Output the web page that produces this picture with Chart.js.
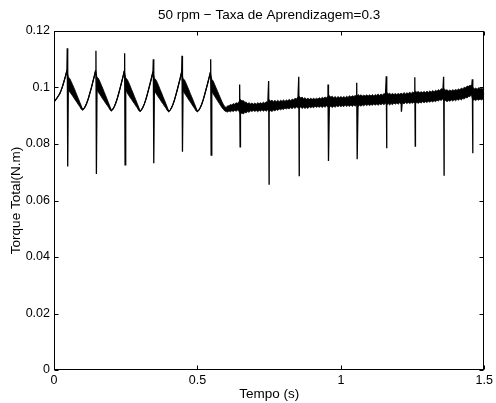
<!DOCTYPE html>
<html lang="pt">

<head>
    <meta charset="UTF-8" />
    <title>Torque Total - 50 rpm</title>
    <style>
        html, body { margin: 0; padding: 0; background: #fff; }
        #wrap { width: 496px; height: 403px; }
    </style>
</head>

<body>
    <div id="wrap"><canvas id="torqueChart"></canvas></div>

    <script src="https://cdn.jsdelivr.net/npm/chart.js"></script>

    <script>
        // torque read every 0.005 s (one row = 0.1 s): centre of the trace
        const sampleStep = 0.005;
        const torqueMid = [
            0.0948, 0.0955, 0.0962, 0.0970, 0.0978, 0.0990, 0.1005, 0.1022, 0.1040, 0.1060, 0.1015, 0.1008, 0.0999, 0.0990, 0.0980, 0.0970, 0.0960, 0.0950, 0.0940, 0.0929,
            0.0921, 0.0926, 0.0935, 0.0947, 0.0962, 0.0980, 0.0998, 0.1018, 0.1038, 0.1060, 0.1014, 0.1007, 0.0998, 0.0988, 0.0978, 0.0968, 0.0958, 0.0948, 0.0938, 0.0927,
            0.0918, 0.0923, 0.0932, 0.0944, 0.0959, 0.0977, 0.0996, 0.1016, 0.1036, 0.1058, 0.1012, 0.1005, 0.0996, 0.0986, 0.0976, 0.0966, 0.0956, 0.0946, 0.0936, 0.0925,
            0.0916, 0.0921, 0.0930, 0.0942, 0.0957, 0.0975, 0.0994, 0.1014, 0.1034, 0.1056, 0.1011, 0.1004, 0.0995, 0.0985, 0.0975, 0.0965, 0.0955, 0.0945, 0.0935, 0.0924,
            0.0915, 0.0920, 0.0929, 0.0941, 0.0956, 0.0974, 0.0993, 0.1013, 0.1033, 0.1055, 0.1010, 0.1003, 0.0994, 0.0984, 0.0974, 0.0964, 0.0954, 0.0944, 0.0934, 0.0923,
            0.0915, 0.0920, 0.0929, 0.0941, 0.0956, 0.0974, 0.0993, 0.1012, 0.1032, 0.1053, 0.1008, 0.1000, 0.0990, 0.0980, 0.0970, 0.0960, 0.0950, 0.0940, 0.0932, 0.0925,
            0.0922, 0.0924, 0.0926, 0.0927, 0.0928, 0.0929, 0.0930, 0.0931, 0.0932, 0.0933, 0.0932, 0.0931, 0.0930, 0.0930, 0.0929, 0.0929, 0.0929, 0.0930, 0.0930, 0.0930,
            0.0930, 0.0930, 0.0930, 0.0931, 0.0931, 0.0932, 0.0932, 0.0932, 0.0933, 0.0934, 0.0936, 0.0935, 0.0935, 0.0935, 0.0936, 0.0936, 0.0937, 0.0937, 0.0938, 0.0938,
            0.0939, 0.0939, 0.0940, 0.0940, 0.0941, 0.0941, 0.0942, 0.0943, 0.0944, 0.0945, 0.0947, 0.0948, 0.0947, 0.0946, 0.0945, 0.0945, 0.0944, 0.0944, 0.0945, 0.0945,
            0.0945, 0.0945, 0.0946, 0.0946, 0.0946, 0.0947, 0.0947, 0.0947, 0.0948, 0.0948, 0.0949, 0.0950, 0.0950, 0.0950, 0.0949, 0.0949, 0.0949, 0.0949, 0.0950, 0.0950,
            0.0950, 0.0950, 0.0950, 0.0951, 0.0951, 0.0951, 0.0952, 0.0952, 0.0952, 0.0953, 0.0953, 0.0954, 0.0954, 0.0954, 0.0954, 0.0954, 0.0954, 0.0955, 0.0955, 0.0955,
            0.0955, 0.0955, 0.0956, 0.0956, 0.0956, 0.0957, 0.0957, 0.0957, 0.0958, 0.0958, 0.0959, 0.0960, 0.0960, 0.0960, 0.0959, 0.0959, 0.0959, 0.0960, 0.0960, 0.0960,
            0.0960, 0.0961, 0.0961, 0.0961, 0.0962, 0.0962, 0.0962, 0.0963, 0.0963, 0.0963, 0.0964, 0.0965, 0.0965, 0.0965, 0.0965, 0.0965, 0.0965, 0.0966, 0.0966, 0.0966,
            0.0967, 0.0967, 0.0968, 0.0968, 0.0969, 0.0969, 0.0970, 0.0971, 0.0972, 0.0973, 0.0975, 0.0977, 0.0974, 0.0972, 0.0971, 0.0971, 0.0971, 0.0972, 0.0972, 0.0973,
            0.0973, 0.0974, 0.0975, 0.0976, 0.0977, 0.0978, 0.0980, 0.0982, 0.0984, 0.0986, 0.0988, 0.0990, 0.0978, 0.0976, 0.0976, 0.0976, 0.0977, 0.0977, 0.0977, 0.0977,
            0.0977
        ];

        // half height of the fast ripple band around the centre, same grid
        const torqueSpread = [
            0, 0, 0, 0, 0, 0, 0, 0, 0, 0, 0.0022, 0.0024, 0.0022, 0.0020, 0.0018, 0.0016, 0.0013, 0.0011, 0.0008, 0.0006,
            0, 0, 0, 0, 0, 0, 0, 0, 0, 0, 0.0022, 0.0025, 0.0023, 0.0021, 0.0019, 0.0016, 0.0014, 0.0011, 0.0008, 0.0006,
            0, 0, 0, 0, 0, 0, 0, 0, 0, 0, 0.0022, 0.0024, 0.0023, 0.0021, 0.0018, 0.0016, 0.0013, 0.0011, 0.0008, 0.0006,
            0, 0, 0, 0, 0, 0, 0, 0, 0, 0, 0.0022, 0.0024, 0.0023, 0.0021, 0.0018, 0.0016, 0.0013, 0.0011, 0.0008, 0.0006,
            0, 0, 0, 0, 0, 0, 0, 0, 0, 0, 0.0021, 0.0024, 0.0022, 0.0020, 0.0018, 0.0015, 0.0013, 0.0011, 0.0008, 0.0006,
            0, 0, 0, 0, 0, 0, 0, 0, 0, 0, 0.0021, 0.0023, 0.0021, 0.0019, 0.0017, 0.0015, 0.0013, 0.0011, 0.0009, 0.0008,
            0.0007, 0.0011, 0.0009, 0.0013, 0.0010, 0.0014, 0.0011, 0.0015, 0.0012, 0.0017, 0.0026, 0.0021, 0.0024, 0.0018, 0.0019, 0.0014, 0.0017, 0.0012, 0.0015, 0.0011,
            0.0015, 0.0011, 0.0016, 0.0012, 0.0015, 0.0011, 0.0016, 0.0012, 0.0017, 0.0013, 0.0021, 0.0017, 0.0020, 0.0015, 0.0019, 0.0014, 0.0018, 0.0013, 0.0017, 0.0013,
            0.0017, 0.0012, 0.0016, 0.0013, 0.0017, 0.0012, 0.0017, 0.0013, 0.0018, 0.0014, 0.0019, 0.0021, 0.0016, 0.0020, 0.0015, 0.0019, 0.0014, 0.0018, 0.0013, 0.0017,
            0.0013, 0.0017, 0.0012, 0.0016, 0.0013, 0.0017, 0.0013, 0.0018, 0.0014, 0.0018, 0.0014, 0.0019, 0.0021, 0.0016, 0.0020, 0.0015, 0.0019, 0.0014, 0.0018, 0.0014,
            0.0018, 0.0014, 0.0018, 0.0013, 0.0018, 0.0014, 0.0019, 0.0014, 0.0019, 0.0015, 0.0019, 0.0015, 0.0021, 0.0017, 0.0020, 0.0016, 0.0019, 0.0015, 0.0019, 0.0015,
            0.0019, 0.0015, 0.0019, 0.0014, 0.0019, 0.0015, 0.0020, 0.0015, 0.0019, 0.0015, 0.0020, 0.0016, 0.0022, 0.0017, 0.0021, 0.0016, 0.0020, 0.0015, 0.0019, 0.0015,
            0.0019, 0.0015, 0.0019, 0.0015, 0.0020, 0.0015, 0.0019, 0.0016, 0.0020, 0.0016, 0.0020, 0.0016, 0.0022, 0.0018, 0.0021, 0.0017, 0.0020, 0.0016, 0.0020, 0.0016,
            0.0020, 0.0016, 0.0020, 0.0016, 0.0020, 0.0016, 0.0020, 0.0016, 0.0020, 0.0016, 0.0021, 0.0017, 0.0022, 0.0018, 0.0021, 0.0017, 0.0020, 0.0016, 0.0020, 0.0016,
            0.0020, 0.0016, 0.0020, 0.0016, 0.0021, 0.0017, 0.0021, 0.0017, 0.0021, 0.0018, 0.0020, 0.0016, 0.0023, 0.0019, 0.0022, 0.0018, 0.0022, 0.0018, 0.0021, 0.0018,
            0.0020
        ];

        // commutation spikes: time, max and min torque
        const spikeTimes = [0.047, 0.147, 0.247, 0.347, 0.447, 0.547, 0.648, 0.749, 0.854, 0.956, 1.056, 1.159, 1.211, 1.2585, 1.359, 1.459];
        const spikeTops = [0.1139, 0.1130, 0.1121, 0.1100, 0.1112, 0.1100, 0.1011, 0.1023, 0.1038, 0.1011, 0.1017, 0.1040, 0.0978, 0.1036, 0.1038, 0.1029];
        const spikeBottoms = [0.0720, 0.0694, 0.0726, 0.0732, 0.0773, 0.0761, 0.0790, 0.0658, 0.0688, 0.0740, 0.0746, 0.0785, 0.0914, 0.0793, 0.0690, 0.0767];

        const xTicks = [0, 0.5, 1, 1.5];
        const yTicks = [0, 0.02, 0.04, 0.06, 0.08, 0.1, 0.12];

        const gridTime = (i) => +(i * sampleStep).toFixed(4);

        const trace = torqueMid.map((v, i) => ({ x: gridTime(i), y: v }));
        spikeTimes.forEach((t, i) => {
            trace.push({ x: t - 0.0008, y: spikeTops[i] });
            trace.push({ x: t + 0.0008, y: spikeBottoms[i] });
        });
        trace.sort((a, b) => a.x - b.x);

        const bandHigh = torqueMid.map((v, i) => ({ x: gridTime(i), y: v + torqueSpread[i] }));
        const bandLow = torqueMid.map((v, i) => ({ x: gridTime(i), y: v - torqueSpread[i] }));

        const family = "'Liberation Sans', Arial, sans-serif";
        const tickFont = { family, size: 12.5 };
        const labelFont = { family, size: 13.5 };
        const fmt = (v) => String(Number(v.toFixed(3)));

        // matlab style box with inward ticks on all four sides
        const matlabFrame = {
            id: 'matlabFrame',
            afterDraw(chart) {
                const { ctx, chartArea: a, scales: { x, y } } = chart;
                const L = Math.round(a.left) + 0.5, R = Math.round(a.right) - 0.5;
                const T = Math.round(a.top) + 0.5, B = Math.round(a.bottom) - 0.5;
                const len = 4;
                ctx.save();
                ctx.strokeStyle = '#000';
                ctx.lineWidth = 1;
                ctx.strokeRect(L, T, R - L, B - T);
                ctx.beginPath();
                xTicks.forEach(v => {
                    const px = Math.round(x.getPixelForValue(v)) + 0.5;
                    ctx.moveTo(px, B); ctx.lineTo(px, B - len);
                    ctx.moveTo(px, T); ctx.lineTo(px, T + len);
                });
                yTicks.forEach(v => {
                    const py = Math.round(y.getPixelForValue(v)) + 0.5;
                    ctx.moveTo(L, py); ctx.lineTo(L + len, py);
                    ctx.moveTo(R, py); ctx.lineTo(R - len, py);
                });
                ctx.stroke();
                ctx.restore();
            }
        };

        const ctx = document.getElementById('torqueChart').getContext('2d');

        new Chart(ctx, {
            type: 'line',
            data: {
                datasets: [
                    {
                        data: trace,
                        borderColor: '#000',
                        borderWidth: 1.3,
                        pointRadius: 0,
                        tension: 0,
                        fill: false
                    },
                    {
                        data: bandHigh,
                        borderColor: '#000',
                        backgroundColor: '#000',
                        borderWidth: 0.8,
                        pointRadius: 0,
                        tension: 0,
                        fill: '+1'
                    },
                    {
                        data: bandLow,
                        borderColor: '#000',
                        borderWidth: 0.8,
                        pointRadius: 0,
                        tension: 0,
                        fill: false
                    }
                ]
            },
            options: {
                responsive: true,
                maintainAspectRatio: false,
                animation: false,
                layout: { padding: { left: 0, right: 9, top: 0, bottom: 0 } },
                plugins: {
                    legend: { display: false },
                    tooltip: { enabled: false },
                    title: {
                        display: true,
                        fullSize: false,
                        text: '50 rpm \u2212 Taxa de Aprendizagem=0.3',
                        color: '#000',
                        font: { ...labelFont, weight: 'normal' },
                        padding: { top: 7, bottom: 7.8 }
                    }
                },
                scales: {
                    x: {
                        type: 'linear',
                        min: 0,
                        max: 1.5,
                        afterBuildTicks: (s) => { s.ticks = xTicks.map(v => ({ value: v })); },
                        afterFit: (s) => { s.height = 33; },
                        grid: { display: false, drawTicks: false },
                        border: { display: false },
                        ticks: { color: '#000', font: tickFont, padding: 3, maxRotation: 0, callback: fmt },
                        title: { display: true, text: 'Tempo (s)', color: '#000', font: labelFont, padding: { top: 0, bottom: 1 } }
                    },
                    y: {
                        min: 0,
                        max: 0.12,
                        afterBuildTicks: (s) => { s.ticks = yTicks.map(v => ({ value: v })); },
                        afterFit: (s) => { s.width = 54; },
                        grid: { display: false, drawTicks: false },
                        border: { display: false },
                        ticks: { color: '#000', font: tickFont, padding: 4, callback: fmt },
                        title: { display: true, text: 'Torque Total(N.m)', color: '#000', font: labelFont, padding: { top: 8.4, bottom: 0 } }
                    }
                }
            },
            plugins: [matlabFrame]
        });
    </script>
</body>

</html>
